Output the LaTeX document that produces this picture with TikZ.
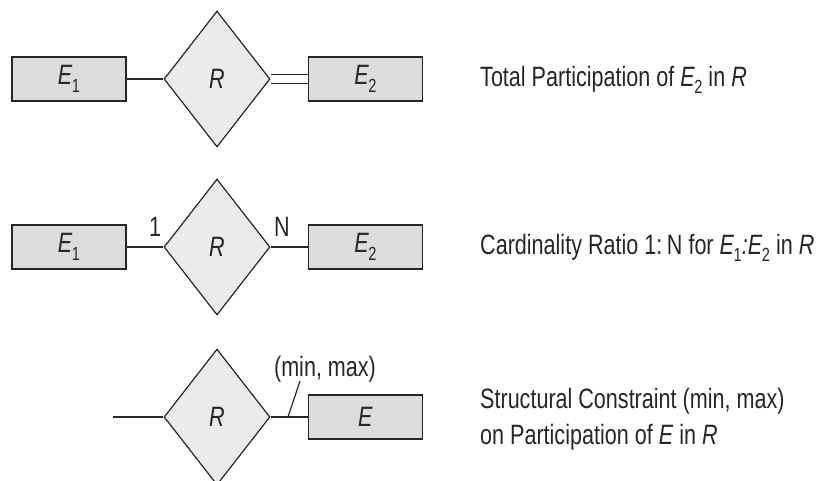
\documentclass[tikz,border=0pt]{standalone}
\usepackage{fontspec}
\setmainfont{Liberation Sans}[FakeStretch=0.77]
\usetikzlibrary{shapes.geometric,backgrounds}
\definecolor{boxgray}{HTML}{DCDCDC}
\definecolor{diagray}{HTML}{EBEBEB}
\definecolor{ink}{HTML}{262626}
\newcommand{\lowidx}[1]{\raisebox{-0.26em}{\fontsize{19}{19}\selectfont #1}}
\newcommand{\ent}[1]{\textit{E}\kern-0.02em\lowidx{#1}}

\begin{document}
\begin{tikzpicture}[x=1pt,y=-1pt,
		every node/.style={font=\fontsize{28}{36}\selectfont,text=ink},
		entity/.style={draw=ink,line width=1.2pt,fill=boxgray,minimum width=114pt,minimum height=44pt,inner sep=0pt},
		relship/.style={draw=ink,line width=1.2pt,diamond,fill=diagray,minimum width=106pt,minimum height=136pt,inner sep=0pt},
		link/.style={draw=ink,line width=1.2pt},
		caption/.style={anchor=base west,inner sep=0pt}]
		\useasboundingbox (0,0) rectangle (820,480);
		% total participation
		\node [entity] (e1top) at (69,79) {\ent{1}};
		\node [relship] (rtop) at (217,79) {\textit{R}};
		\node [entity] (e2top) at (365.5,79) {\ent{2}};
		\node [caption] (captop) at (480,86) {Total Participation of \ent{2} in \textit{R}};
		%
		% cardinality ratio
		\node [entity] (e1mid) at (69,247) {\ent{1}};
		\node [relship] (rmid) at (217,247) {\textit{R}};
		\node [entity] (e2mid) at (365.5,247) {\ent{2}};
		\node [inner sep=0pt] (one) at (155,227) {1};
		\node [inner sep=0pt] (many) at (282,227) {N};
		\node [caption] (capmid) at (480,254) {Cardinality Ratio 1:\,N for \ent{1}\textit{:}\ent{2} in \textit{R}};
		%
		% structural constraint
		\coordinate (lowend) at (113,417);
		\node [relship] (rlow) at (217,417) {\textit{R}};
		\node [entity] (elow) at (365.5,417) {\textit{E}};
		\node [inner sep=0pt] (minmax) at (325,369) {(min, max)};
		\coordinate (tickfoot) at (288,417);
		\coordinate (tickhead) at (300,381);
		\node [anchor=west,align=left,inner sep=0pt] (caplow) at (480,419)
			{Structural Constraint (min, max)\\on Participation of \textit{E} in \textit{R}};
		%
		\begin{pgfonlayer}{background}
			\draw [link] (e1top) -- (rtop);
			\draw [link,double=white,double distance=8.5pt] (rtop) -- (e2top);
			\draw [link] (e1mid) -- (rmid);
			\draw [link] (rmid) -- (e2mid);
			\draw [link] (lowend) -- (rlow);
			\draw [link] (rlow) -- (elow);
		\end{pgfonlayer}
		\draw [link] (tickfoot) -- (tickhead);
	\end{tikzpicture}
\end{document}
